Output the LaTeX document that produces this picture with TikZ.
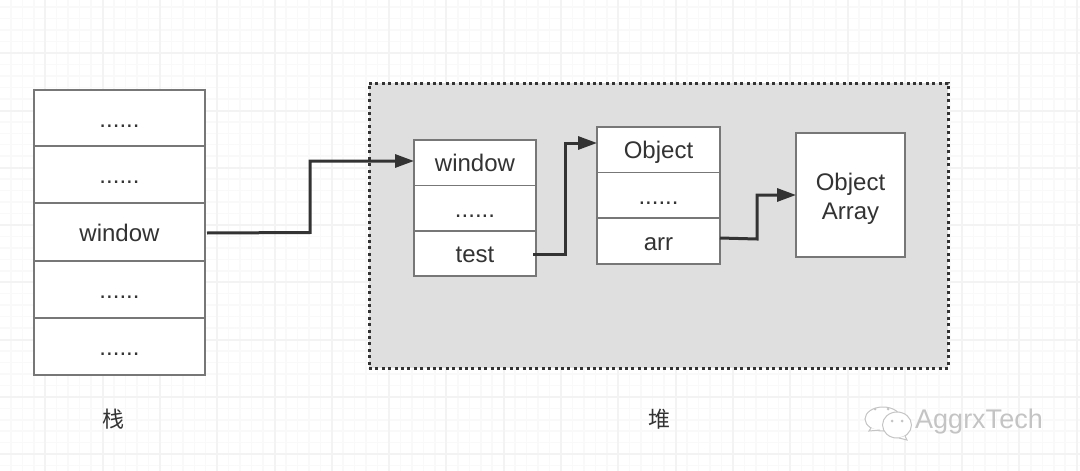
\documentclass[tikz,border=0pt]{standalone}
\usepackage{fontspec}
\setmainfont{Liberation Sans}
\newfontfamily\cjk{Noto Sans CJK SC}
\usetikzlibrary{arrows.meta}
\definecolor{ink}{HTML}{333333}
\definecolor{edgegray}{HTML}{777777}
\definecolor{heapfill}{HTML}{DFDFDF}
\definecolor{gridminor}{HTML}{F9F9F9}
\definecolor{gridmajor}{HTML}{F3F3F3}
\definecolor{wmgray}{HTML}{C4C4C4}
\tikzset{
  x=1pt,y=-1pt,
  cell/.style={draw=edgegray,line width=1.1pt,fill=white,inner sep=0pt,text=ink,align=center,font=\fontsize{24}{29}\selectfont},
  onerow/.style={text height=18pt,text depth=0pt},
  link/.style={draw=ink,line width=3pt,-{Triangle[length=19pt,width=13pt]},line join=miter},
  cnlabel/.style={text=ink,font=\cjk\fontsize{22}{26}\selectfont},
  wm/.style={draw=wmgray,line width=1pt,fill=white}
}
\newcommand{\cellat}[6]{\node[cell,onerow,minimum width=#4 pt,minimum height=#5 pt] (#1) at (#2,#3) {#6};}
\begin{document}
\begin{tikzpicture}
\useasboundingbox (0,0) rectangle (1080,471);
\fill[white] (0,0) rectangle (1080,471);
% background grid
\foreach \i in {-3,...,95}{
  \draw[gridminor,line width=1.5pt] ({10.9+11.46*\i},0) -- ({10.9+11.46*\i},471);
  \draw[gridminor,line width=1.5pt] (0,{7.2+11.46*\i}) -- (1080,{7.2+11.46*\i});
}
\foreach \i in {0,...,18}{
  \draw[gridmajor,line width=2pt] ({45.3+57.3*\i},0) -- ({45.3+57.3*\i},471);
}
\foreach \i in {0,...,8}{
  \draw[gridmajor,line width=2pt] (0,{-4.1+57.3*\i}) -- (1080,{-4.1+57.3*\i});
}
% heap region
\node[draw=ink,line width=3pt,dash pattern=on 3pt off 3.4pt,fill=heapfill,inner sep=0pt,minimum width=579pt,minimum height=285pt] (heap) at (658.5,225.5) {};
% stack
\cellat{s1}{119.5}{118}{171}{56}{......}
\cellat{s2}{119.5}{174.5}{171}{57}{......}
\cellat{s3}{119.5}{232}{171}{58}{window}
\cellat{s4}{119.5}{289.5}{171}{57}{......}
\cellat{s5}{119.5}{346.5}{171}{57}{......}
% heap object 1
\cellat{a1}{475}{162.75}{122}{45.5}{window}
\cellat{a2}{475}{208.25}{122}{45.5}{......}
\cellat{a3}{475}{253.5}{122}{45}{test}
% heap object 2
\cellat{b1}{658.5}{149.75}{123}{45.5}{Object}
\cellat{b2}{658.5}{195.25}{123}{45.5}{......}
\cellat{b3}{658.5}{241}{123}{46}{arr}
% array
\node[cell,minimum width=109pt,minimum height=124pt] (c) at (850.5,195) {\rule{0pt}{24pt}Object\\Array};
% connectors
\coordinate (s3out) at (207,233);
\coordinate (a3out) at (533,254);
\coordinate (b3out) at (720,238);
\draw[link] (s3out) -- (310,232.5) |- ([yshift=1.75pt,xshift=.6pt]a1.west);
\draw[link] (a3out) -- (565,254) |- ([yshift=6.75pt,xshift=.6pt]b1.west);
\draw[link] (b3out) -- (757,239) |- ([xshift=.6pt]c.west);
% labels
\node[cnlabel] (stacklabel) at (113,419) {栈};
\node[cnlabel] (heaplabel) at (659,419) {堆};
% watermark
\draw[wm] (883,419) ellipse (18pt and 12pt);
\draw[wm] (871,428) -- (869,431) -- (880,430);
\draw[wm] (897,425) ellipse (14.5pt and 13pt);
\draw[wm] (905,436) -- (907,440) -- (899,438);
\foreach \p in {(875,409),(888,409),(892,421),(902,421)} \fill[wmgray] \p circle (1.5pt);
\node[text=wmgray,font=\fontsize{27}{30}\selectfont,inner sep=0pt] (wmtext) at (979,422) {AggrxTech};
\end{tikzpicture}
\end{document}
